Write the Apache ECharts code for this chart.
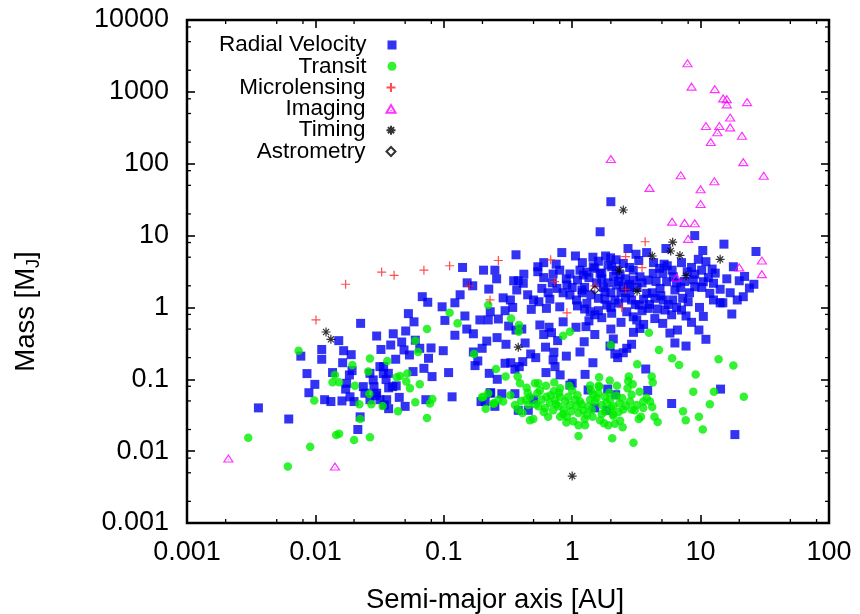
<!DOCTYPE html>
<html><head><meta charset="utf-8">
<script src="https://cdn.jsdelivr.net/npm/echarts@6/dist/echarts.min.js"></script>
<style>html,body{margin:0;padding:0;background:#fff}#c{width:860px;height:614px}</style>
</head><body><div id="c"></div>
<script>
const FONT = '"Liberation Sans", Arial, Helvetica, sans-serif';

// ---- tick labels ----
const xTickValues = [0.001, 0.01, 0.1, 1, 10, 100];
const xTickLabels = ['0.001', '0.01', '0.1', '1', '10', '100'];
const yTickValues = [0.001, 0.01, 0.1, 1, 10, 100, 1000, 10000];
const yTickLabels = ['0.001', '0.01', '0.1', '1', '10', '100', '1000', '10000'];
const xMinorTicks = [0.002,0.005,0.008,0.02,0.05,0.08,0.2,0.5,0.8,2,5,8,20,50,80];
const yMinorTicks = [0.002,0.005,0.008,0.02,0.05,0.08,0.2,0.5,0.8,2,5,8,20,50,80,200,500,800,2000,5000,8000];

// ---- data: [semi-major axis AU, mass M_J] ----
const radialVelocity = [
[0.0036,0.040],[0.0062,0.028],[0.0077,0.21],[0.0086,0.12],[0.0099,0.085],[0.0089,0.065],[0.0112,0.26],[0.0112,0.19],[0.0118,0.052],[0.0132,0.049],[0.0136,0.124],[0.0152,0.345],[0.0163,0.17],[0.0166,0.25],[0.019,0.22],[0.0161,0.050],[0.0175,0.088],[0.0184,0.115],[0.0193,0.132],[0.020,0.049],[0.0186,0.057],[0.0172,0.073],[0.0223,0.030],[0.0214,0.020],[0.0225,0.60],[0.0236,0.079],[0.0243,0.064],[0.030,0.40],[0.0286,0.079],[0.0296,0.059],[0.0318,0.15],[0.0324,0.26],[0.0338,0.12],[0.0355,0.099],[0.0372,0.076],[0.0344,0.044],[0.0372,0.039],[0.0386,0.30],[0.0404,0.43],[0.0422,0.19],[0.0426,0.081],[0.045,0.056],[0.047,0.33],[0.049,0.256],[0.0505,0.47],[0.053,0.82],[0.054,0.218],[0.0576,0.128],[0.0586,0.63],[0.060,0.35],[0.065,0.27],[0.068,1.41],[0.075,1.18],[0.070,0.142],[0.076,0.196],[0.0795,0.273],[0.081,0.109],[0.0725,0.052],[0.050,0.042],[0.097,1.02],[0.099,0.25],[0.102,0.66],[0.109,0.124],[0.116,0.057],[0.122,0.41],[0.122,1.16],[0.134,1.5],[0.146,0.76],[0.140,3.6],[0.151,0.50],[0.152,2.2],[0.170,0.43],[0.168,2.0],[0.170,0.24],[0.175,0.155],[0.184,0.18],[0.199,0.27],[0.191,0.67],[0.204,3.3],[0.216,0.34],[0.224,1.8],[0.222,0.67],[0.226,0.121],[0.23,0.87],[0.25,3.3],[0.258,2.5],[0.266,0.69],[0.229,0.064],[0.195,0.049],[0.037,0.121],[0.034,0.15],[0.040,0.079],[0.0266,0.121],[0.0282,0.098],[0.030,0.064],[0.0318,0.052],[0.0266,0.052],[0.0359,0.052],
[1.65,11.3],[9.0,10],[15.2,7.6],[27,6.0],[10.4,6.2],[5.37,6.6],[2.72,6.6],[0.365,5.4],[0.83,5.8],[1.06,5.2],[1.45,5.0],[1.82,5.2],[1.99,4.9],[3.14,5.5],[3.8,5.8],[7.1,4.2],[9.6,4.67],[11,4.33],[18,3.68],[12.3,3.42],[10.2,3.3],[0.54,3.68],[0.54,3.14],[0.71,2.92],[0.96,2.92],[1.15,3.3],[1.22,2.83],[1.46,3.68],[1.65,2.98],[2.03,3.68],[2.36,2.83],[2.99,3.3],[3.37,2.67],[4.28,2.98],[5.07,2.98],[5.44,2.28],[6.13,2.67],[7.87,3.14],[8.77,2.41],[10.5,2.28],[12.6,2.17],[14.2,1.79],[20,2.35],[24,1.86],[21.5,1.41],[19.3,1.27],[14.2,1.16],[17.5,0.81],[0.35,2.35],[0.38,2.35],[0.37,1.75],[0.29,1.36],[0.33,1.27],[0.344,1.0],[0.416,2.17],[0.50,1.27],[0.58,1.84],[0.67,1.3],[0.63,0.97],[0.48,0.94],[0.80,1.02],[0.76,1.84],[0.91,2.05],[0.96,1.49],[1.08,1.27],[1.19,1.75],[1.30,1.14],[1.38,0.87],[1.50,0.79],[1.6,1.34],[1.8,1.65],[1.86,1.08],[2.03,0.83],[2.15,1.27],[2.22,2.05],[2.73,1.94],[2.9,1.27],[2.66,0.87],[2.99,0.74],[3.18,0.67],[3.37,0.51],[3.33,1.08],[3.8,1.57],[3.91,0.97],[4.41,1.34],[4.83,1.84],[5.13,1.27],[5.29,0.92],[6.06,1.27],[6.31,1.75],[7.25,1.34],[7.7,0.76],[7.1,0.92],[5.95,0.79],[5.07,0.60],[5.77,0.44],[6.6,0.485],[6.31,0.32],[7.7,0.29],[9.7,0.485],[11,0.36],[9.8,1.0],[9.0,1.94],[11.8,1.57],[12.6,1.27],[14.9,1.16],[0.365,0.485],[0.405,0.5],[0.56,0.57],[0.66,0.53],[0.69,0.445],[0.85,0.63],[1.07,0.53],[1.28,0.54],[0.77,0.345],[1.24,0.333],[2.09,0.364],[1.97,0.29],[2.9,0.307],[2.66,0.27],[2.15,0.225],[2.5,0.234],[2.26,0.20],[0.305,0.307],[0.475,0.225],[0.72,0.238],[0.71,0.186],[0.412,0.176],[0.30,0.167],[0.332,0.17],[0.387,0.15],[0.358,0.138],[0.261,0.10],[0.625,0.124],[0.735,0.15],[0.805,0.115],[1.26,0.117],[3.74,0.139],[0.96,0.083],[1.0,0.088],[1.89,0.073],[1.33,0.071],[2.18,0.061],[3.87,0.070],[14.3,0.073],[0.232,0.065],[0.283,0.063],[0.358,0.063],[0.21,0.049],[0.25,0.042],[0.38,0.037],[0.455,0.037],[0.50,0.052],[1.5,0.040],[1.86,0.037],[5.95,0.046],[18.5,0.017],[2.0,29.6],
[1.1,2.4],[1.25,1.9],[1.35,2.6],[1.4,1.5],[1.55,2.2],[1.7,2.5],[1.75,1.9],[1.9,2.2],[2.0,1.6],[2.1,2.7],[2.3,2.3],[2.4,1.6],[2.5,1.9],[2.6,2.5],[2.8,2.1],[1.2,1.6],[1.3,3.1],[1.5,3.5],[1.7,3.0],[1.9,3.9],[2.2,3.3],[2.5,4.1],[2.8,3.6],[3.0,2.4],[3.2,1.9],[3.5,2.2],[3.6,1.3],[3.9,2.4],[4.2,1.6],[4.5,2.3],[4.8,3.5],[5.5,3.8],[6.0,3.3],[6.5,2.2],[7.0,1.9],[7.5,2.3],[8.2,1.6],[8.5,3.6],[1.0,1.9],[0.9,2.5],[0.85,1.6],[0.8,3.3],[0.7,2.2],[0.65,1.6],[0.6,2.6],[0.55,1.2],[0.45,1.5],[0.42,2.9],[0.6,4.2],[0.75,4.0],[1.2,4.2],[1.6,4.4],[2.2,4.6],[3.3,4.5],[4.3,4.2],[5.2,4.0],[1.1,1.05],[1.25,0.95],[1.6,0.9],[1.8,1.3],[2.0,1.0],[2.3,1.15],[2.6,1.35],[2.8,1.6],[3.1,1.1],[3.5,0.9],[4.0,1.1],[4.6,0.95],[4.9,1.45],[5.6,1.1],[6.5,1.0],[8.0,1.2],[1.35,0.65],[1.7,0.72],[2.4,0.62],[2.0,0.5],[1.5,0.42],[3.6,0.58],[4.4,0.7],[3.0,0.45],[8.5,0.62],[10.5,0.75],[9.0,2.9],[10.2,1.9],[11.5,2.6],[13,3.0],[16,2.5],[17,1.6],[22,2.7],[26,2.1],[0.3,0.9],[0.32,0.55],[0.26,0.38],[0.43,0.32],[0.62,0.28],[0.52,0.2],[0.9,0.21],[1.15,0.24],[1.45,0.17],[0.6,0.42]
];
const transit = [
[0.0030,0.0154],[0.0061,0.0061],[0.0074,0.25],[0.0091,0.0115],[0.0098,0.0505],[0.0142,0.115],[0.0136,0.091],[0.0153,0.091],[0.0145,0.0168],[0.0153,0.0174],[0.0194,0.158],[0.020,0.0143],[0.0203,0.081],[0.022,0.045],[0.0223,0.028],[0.0258,0.128],[0.0266,0.194],[0.0263,0.0625],[0.0266,0.0156],[0.0273,0.045],[0.0334,0.0425],[0.0363,0.18],[0.043,0.107],[0.0456,0.111],[0.044,0.036],[0.052,0.12],[0.051,0.093],[0.0545,0.075],[0.060,0.048],[0.060,0.345],[0.063,0.24],[0.065,0.085],[0.074,0.50],[0.078,0.046],[0.0815,0.053],[0.074,0.029],[0.111,0.84],[0.128,0.60],[0.172,0.225],[0.198,0.056],[0.222,0.064],[0.212,0.039],[0.222,1.08],[0.255,0.139],[0.246,0.046],[0.266,0.052],
[0.334,0.70],[0.385,0.57],[0.383,0.46],[0.85,0.405],[0.96,0.46],[2.0,0.30],[3.96,0.445],[4.74,0.256],[6.0,0.196],[6.8,0.158],[13.8,0.19],[18,0.155],[9.15,0.117],[3.21,0.162],[4.16,0.109],[4.24,0.090],[8.77,0.067],[12.7,0.067],[21.7,0.057],[11.8,0.045],[7.3,0.036],[7.66,0.027],[9.7,0.030],[10.4,0.020],[0.303,0.109],[0.376,0.109],[0.392,0.088],[0.442,0.0765],[0.513,0.088],[0.545,0.088],[0.625,0.081],[0.725,0.090],[0.805,0.075],[0.79,0.065],[0.95,0.081],[1.38,0.082],[1.62,0.107],[1.61,0.081],[1.96,0.096],[2.23,0.081],[2.76,0.109],[2.73,0.095],[2.96,0.085],[2.7,0.075],[3.35,0.067],[2.9,0.061],[3.8,0.055],[4.04,0.049],[4.2,0.041],[3.58,0.040],[3.07,0.037],[4.37,0.030],[4.63,0.0255],[3.43,0.030],[3.3,0.028],[0.203,0.057],[0.243,0.046],[0.29,0.049],[0.358,0.044],[0.38,0.038],[0.435,0.052],[0.469,0.057],[0.469,0.027],[0.498,0.028],[0.535,0.064],[0.58,0.052],[0.63,0.057],[0.67,0.047],[0.735,0.052],[0.615,0.040],[0.78,0.042],[0.805,0.057],[0.88,0.049],[0.93,0.057],[0.96,0.044],[0.85,0.033],[0.91,0.030],[1.05,0.052],[1.08,0.042],[1.12,0.034],[1.15,0.049],[1.22,0.037],[1.02,0.026],[1.12,0.023],[1.26,0.023],[1.38,0.052],[1.33,0.042],[1.46,0.061],[1.5,0.049],[1.7,0.044],[1.8,0.0355],[1.44,0.030],[1.65,0.027],[1.77,0.0245],[1.91,0.023],[2.09,0.031],[2.15,0.024],[2.36,0.0265],[2.47,0.0215],[1.97,0.052],[2.09,0.042],[2.22,0.059],[2.33,0.046],[2.5,0.038],[2.07,0.033],[1.12,0.0163],[2.05,0.0151],[3.0,0.0131],[0.41,0.034],[0.455,0.044],[0.545,0.042],[0.71,0.037],[0.805,0.030],[1.6,0.064],[1.8,0.057],[2.82,0.049],[3.18,0.044],[3.58,0.049],[1.62,0.079],
[0.52,0.045],[0.6,0.035],[0.68,0.06],[0.75,0.045],[0.86,0.038],[0.98,0.036],[1.1,0.06],[1.18,0.045],[1.3,0.032],[1.42,0.038],[1.55,0.055],[1.7,0.033],[1.85,0.047],[2.0,0.04],[2.3,0.035],[2.6,0.043],[2.45,0.055],[1.25,0.028],[0.9,0.025],[0.65,0.03],[0.56,0.07],[0.45,0.065],[1.0,0.07],[2.9,0.038],[0.4,0.05],[0.33,0.06],[1.95,0.065],[1.4,0.07],[0.72,0.068]
];
const microlensing = [
[0.0101,0.67],[0.0172,2.1],[0.0328,3.1],[0.041,2.8],[0.070,3.3],[0.111,3.8],[0.158,2.0],[0.229,1.27],[0.266,4.5],[0.68,4.6],[3.7,8.2],[2.61,5.1],[3.5,3.57],[0.73,2.28],[1.5,2.0],[2.61,1.79],[2.43,0.99],[0.91,0.84]
];
const imaging = [
[7.9,2500],[8.5,1180],[12.9,1090],[15,810],[16,790],[16,670],[23,720],[17,440],[11,335],[14,335],[17,320],[13.5,274],[21,245],[12,200],[2.0,116],[21.5,105],[31,68],[7.0,69],[12.8,57],[4.0,46],[10,44],[10,27.5],[6.0,15.6],[7.5,15],[9.0,14.8],[8.0,9.0],[6.5,2.6],[20,3.6],[30,4.5],[30,2.9],[0.0021,0.0079],[0.0142,0.0061]
];
const timing = [
[0.0121,0.455],[0.0132,0.36],[6.06,8.1],[4.2,5.2],[5.85,6.1],[6.9,5.3],[14.2,4.67],[2.33,3.3],[7.7,2.76],[3.2,1.69],[0.38,0.28],[1.0,0.0045],[2.5,22.7]
];
const astrometry = [[1.5,1.75]];

const seriesNames = ['Radial Velocity', 'Transit', 'Microlensing', 'Imaging', 'Timing', 'Astrometry'];

// ---- chart ----
const X_MIN = 0.001, X_MAX = 100, Y_MIN = 0.001, Y_MAX = 10000;
function labelFor(values, labels) {
  return function (v) {
    for (let i = 0; i < values.length; i++) {
      if (Math.abs(Math.log10(v) - Math.log10(values[i])) < 1e-6) return labels[i];
    }
    return '';
  };
}
const tickFont = 27;
const chart = echarts.init(document.getElementById('c'), null, { renderer: 'canvas' });

function baseAxis(extra) {
  return Object.assign({
    type: 'log', logBase: 10,
    axisLine: { show: false },
    splitLine: { show: false },
    axisTick: { show: true, inside: true, length: 8, lineStyle: { color: '#000', width: 1.6 } },
  }, extra);
}

const PLUS = 'path://M0,5L10,5M5,0L5,10';
const STAR = 'path://M0,5L10,5M5,0L5,10M1.6,1.6L8.4,8.4M1.6,8.4L8.4,1.6';
const TRI = 'path://M5,0L10,8.66L0,8.66ZM5,5.6L5,6.4';
const SQUARE = 'path://M0,0L10,0L10,10L0,10Z';
const DIAMOND = 'path://M5,0L10,5L5,10L0,5Z';

function minorTickSeries(data, dir) {
  return {
    type: 'custom', silent: true, clip: false, z: 5, data: data,
    encode: { x: 0, y: 1 },
    renderItem: function (params, api) {
      const p = api.coord([api.value(0), api.value(1)]);
      const L = 4;
      const d = { b: [0, -L], t: [0, L], l: [L, 0], r: [-L, 0] }[dir];
      return { type: 'line', shape: { x1: p[0], y1: p[1], x2: p[0] + d[0], y2: p[1] + d[1] },
        style: { stroke: '#000', lineWidth: 1.3 } };
    }
  };
}

const legendRows = seriesNames.map(function (name, i) {
  return {
    data: [name], orient: 'horizontal', align: 'right',
    right: 463.5, top: 33.5 + 21.3 * i, padding: 0, itemGap: 0,
    itemWidth: 9, itemHeight: 9, selectedMode: false,
    textStyle: { fontFamily: FONT, fontSize: 22.5, color: '#000', padding: [0, 16, 0, 0] }
  };
});

const scatterCommon = { type: 'scatter', emphasis: { disabled: true }, silent: true };

chart.setOption({
  animation: false,
  backgroundColor: '#fff',
  grid: { left: 187, right: 31, top: 20, bottom: 91, show: true, borderColor: '#000', borderWidth: 2.5,
    backgroundColor: 'transparent', containLabel: false, outerBoundsMode: 'none' },
  legend: legendRows,
  xAxis: [
    baseAxis({ min: X_MIN, max: X_MAX, splitNumber: 5, position: 'bottom',
      name: 'Semi-major axis [AU]', nameLocation: 'middle', nameGap: 63,
      nameTextStyle: { fontFamily: FONT, fontSize: 27.5, color: '#000', padding: [0, 26, 0, 0] },
      axisLabel: { show: true, margin: 16, fontFamily: FONT, fontSize: tickFont, color: '#000',
        formatter: labelFor(xTickValues, xTickLabels) } }),
    baseAxis({ min: X_MIN, max: X_MAX, splitNumber: 5, position: 'top', axisLabel: { show: false } })
  ],
  yAxis: [
    baseAxis({ min: Y_MIN, max: Y_MAX, splitNumber: 7, position: 'left',
      name: 'Mass [M{sub|J}]', nameLocation: 'middle', nameGap: 144, nameRotate: 90,
      nameTextStyle: { fontFamily: FONT, fontSize: 27.5, color: '#000', padding: [0, 80, 0, 0],
        rich: { sub: { fontFamily: FONT, fontSize: 18, color: '#000', verticalAlign: 'bottom', padding: [15, 0, 0, 0] } } },
      axisLabel: { show: true, margin: 18, fontFamily: FONT, fontSize: tickFont, color: '#000',
        formatter: labelFor(yTickValues, yTickLabels) } }),
    baseAxis({ min: Y_MIN, max: Y_MAX, splitNumber: 7, position: 'right', axisLabel: { show: false } })
  ],
  series: [
    Object.assign({}, scatterCommon, { name: seriesNames[0], data: radialVelocity, symbol: SQUARE, symbolSize: 9, symbolKeepAspect: true,
      itemStyle: { color: '#0000f0' } }),
    Object.assign({}, scatterCommon, { name: seriesNames[1], data: transit, symbol: 'circle', symbolSize: 8.5,
      itemStyle: { color: '#00ee00' } }),
    Object.assign({}, scatterCommon, { name: seriesNames[2], data: microlensing, symbol: PLUS, symbolSize: 9, symbolKeepAspect: true,
      itemStyle: { color: 'transparent', borderColor: '#ff2020', borderWidth: 1.2 } }),
    Object.assign({}, scatterCommon, { name: seriesNames[3], data: imaging, symbol: TRI, symbolSize: [9, 8], symbolKeepAspect: true,
      itemStyle: { color: 'transparent', borderColor: '#ff00ff', borderWidth: 1.2 } }),
    Object.assign({}, scatterCommon, { name: seriesNames[4], data: timing, symbol: STAR, symbolSize: 9, symbolKeepAspect: true,
      itemStyle: { color: 'transparent', borderColor: '#000', borderWidth: 1.2 } }),
    Object.assign({}, scatterCommon, { name: seriesNames[5], data: astrometry, symbol: DIAMOND, symbolSize: 8, symbolKeepAspect: true,
      itemStyle: { color: 'transparent', borderColor: '#000', borderWidth: 1.2 } }),
    minorTickSeries(xMinorTicks.map(function (v) { return [v, Y_MIN]; }), 'b'),
    minorTickSeries(xMinorTicks.map(function (v) { return [v, Y_MAX]; }), 't'),
    minorTickSeries(yMinorTicks.map(function (v) { return [X_MIN, v]; }), 'l'),
    minorTickSeries(yMinorTicks.map(function (v) { return [X_MAX, v]; }), 'r')
  ]
});
</script>
</body></html>
